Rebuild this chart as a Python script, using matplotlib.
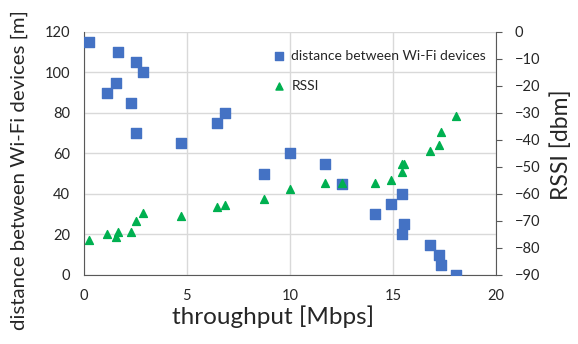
import numpy as np
import matplotlib
matplotlib.use("Agg")
from matplotlib import pyplot as plt

plt.rcParams['font.family'] = ['Lato', 'DejaVu Sans']

# distance between wifi devices [m] vs throughput
dist_x = [0.26, 1.13, 1.64, 1.57, 2.27, 2.53, 2.53, 2.89, 4.7, 6.47, 6.86, 8.73,
          9.99, 11.7, 12.54, 14.13, 14.9, 15.43, 15.54, 15.43, 16.8, 17.26, 17.32, 18.04]
dist_y = [115, 90, 110, 95, 85, 105, 70, 100, 65, 75, 80, 50,
          60, 55, 45, 30, 35, 40, 25, 20, 15, 10, 5, 0]

# rssi [dbm] vs throughput
rssi_x = [0.26, 1.13, 1.57, 1.65, 2.27, 2.53, 2.89, 4.7, 6.47, 6.86, 8.73, 9.99,
          11.7, 12.54, 14.13, 14.9, 15.43, 15.43, 15.55, 16.8, 17.24, 17.32, 18.04]
rssi_y = [-77, -75, -76, -74, -74, -70, -67, -68, -65, -64, -62, -58,
          -56, -56, -56, -55, -52, -49, -49, -44, -42, -37, -31]

blue = "#4472C4"
green = "#00B050"
grid_col = "#D9D9D9"
axis_col = "#595959"
text_col = "#262626"

fig = plt.figure(figsize=(5.78, 3.44), dpi=100)
ax = fig.add_axes([0.145, 0.2006, 0.713, 0.7064])
ax2 = ax.twinx()

h1 = ax.scatter(dist_x, dist_y, marker="s", s=46, color=blue, zorder=3,
                label="distance between Wi-Fi devices")
h2 = ax2.scatter(rssi_x, rssi_y, marker="^", s=32, color=green, zorder=3, label="RSSI")

ax.set_xlim(0, 20)
ax.set_ylim(0, 120)
ax.set_xticks([0, 5, 10, 15, 20])
ax.set_yticks(np.arange(0, 121, 20))
ax2.set_ylim(-90, 0)
ax2.set_yticks(np.arange(-90, 1, 10))

ax.grid(True, color=grid_col, linewidth=1)
ax.set_axisbelow(True)

for a in (ax, ax2):
    for s in a.spines.values():
        s.set_visible(False)
ax.spines['left'].set_visible(True)
ax.spines['bottom'].set_visible(True)
ax2.spines['right'].set_visible(True)
ax.spines['left'].set_color(axis_col)
ax.spines['bottom'].set_color(axis_col)
ax2.spines['right'].set_color(axis_col)

ax.tick_params(axis="x", length=0, labelsize=10.5, labelcolor=text_col, pad=10)
ax.tick_params(axis="y", length=0, labelsize=10.5, labelcolor=text_col, pad=10)
ax2.tick_params(axis="y", length=4.5, direction="out", color=axis_col,
                labelsize=10.5, labelcolor=text_col, pad=9)

ax.set_xlabel("throughput [Mbps]", fontsize=17.5, color=text_col)
ax.xaxis.set_label_coords(0.46, -0.125)
ax.set_ylabel("distance between Wi-Fi devices [m]", fontsize=14.7, color=text_col)
ax.yaxis.set_label_coords(-0.135, 0.432)
ax2.set_ylabel("RSSI [dbm]", fontsize=16.5, color=text_col)
ax2.yaxis.set_label_coords(1.131, 0.535)

ax2.legend(handles=[h1, h2], loc="upper right", bbox_to_anchor=(1.01, 0.984),
           frameon=False, fontsize=10, handletextpad=-0.1, labelspacing=1.3,
           borderaxespad=0.6, labelcolor=text_col, markerscale=0.9)

fig.savefig("out.png", dpi=100)
